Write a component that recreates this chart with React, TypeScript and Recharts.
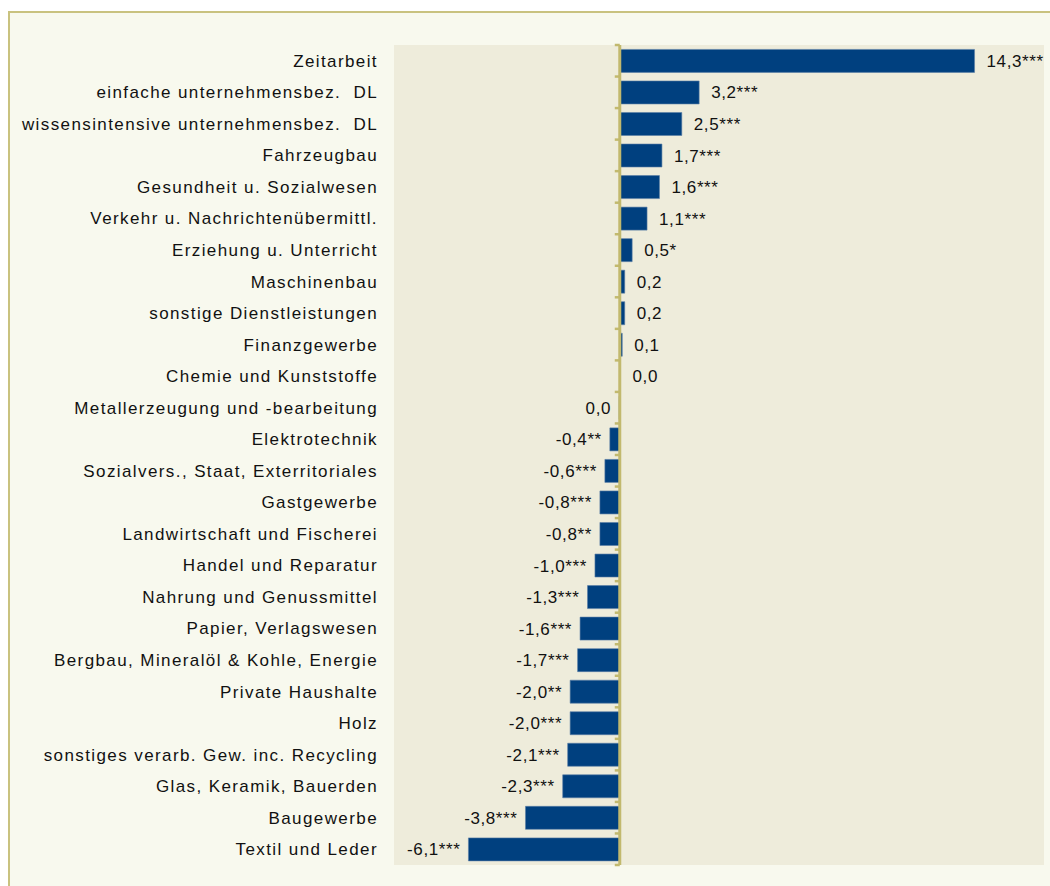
import { BarChart, Bar, XAxis, YAxis, CartesianGrid, ReferenceLine, LabelList } from "recharts";

/* Branchen, Effekte (Prozentpunkte) und Signifikanz */
const branchen = [
  "Zeitarbeit",
  "einfache unternehmensbez.  DL",
  "wissensintensive unternehmensbez.  DL",
  "Fahrzeugbau",
  "Gesundheit u. Sozialwesen",
  "Verkehr u. Nachrichtenübermittl.",
  "Erziehung u. Unterricht",
  "Maschinenbau",
  "sonstige Dienstleistungen",
  "Finanzgewerbe",
  "Chemie und Kunststoffe",
  "Metallerzeugung und -bearbeitung",
  "Elektrotechnik",
  "Sozialvers., Staat, Exterritoriales",
  "Gastgewerbe",
  "Landwirtschaft und Fischerei",
  "Handel und Reparatur",
  "Nahrung und Genussmittel",
  "Papier, Verlagswesen",
  "Bergbau, Mineralöl & Kohle, Energie",
  "Private Haushalte",
  "Holz",
  "sonstiges verarb. Gew. inc. Recycling",
  "Glas, Keramik, Bauerden",
  "Baugewerbe",
  "Textil und Leder",
];

const effekte = [
  14.3, 3.2, 2.5, 1.7, 1.6, 1.1, 0.5, 0.2, 0.2, 0.1, 0.03, -0.03, -0.4, -0.6,
  -0.8, -0.8, -1.0, -1.3, -1.6, -1.7, -2.0, -2.0, -2.1, -2.3, -3.8, -6.1,
];

const sterne = [
  "***", "***", "***", "***", "***", "***", "*", "", "", "", "", "", "**", "***",
  "***", "**", "***", "***", "***", "***", "**", "***", "***", "***", "***", "***",
];

const data = branchen.map((name, i) => ({ name, value: effekte[i], stars: sterne[i] }));

const AXIS_COLOR = "#c2b96e";
const BAR_COLOR = "#00407f";
const FONT = "'Liberation Sans', Arial, sans-serif";

const fmt = (v: number) => (Math.abs(v) < 0.05 ? "0,0" : v.toFixed(1).replace(".", ","));

/* Nulllinie mit Teilstrichen an den Kategoriegrenzen */
const ZeroAxis = (props: any) => {
  const { x1, y1, y2 } = props;
  const top = Math.min(y1, y2);
  const bottom = Math.max(y1, y2);
  const step = (bottom - top) / branchen.length;
  const ticks = [];
  for (let i = 0; i <= branchen.length; i++) {
    const y = top + i * step;
    ticks.push(<line key={i} x1={x1 - 5} x2={x1} y1={y} y2={y} stroke={AXIS_COLOR} strokeWidth={2.5} />);
  }
  return (
    <g>
      <line x1={x1} x2={x1} y1={top} y2={bottom} stroke={AXIS_COLOR} strokeWidth={3} />
      {ticks}
    </g>
  );
};

const CatTick = (props: any) => {
  const { x, y, payload } = props;
  return (
    <text
      x={x}
      y={y}
      dy={6}
      textAnchor="end"
      fontFamily={FONT}
      fontSize={17}
      letterSpacing={1.4}
      fill="#111"
      style={{ whiteSpace: "pre" }}
    >
      {payload.value}
    </text>
  );
};

const ValueLabel = (props: any) => {
  const { x, y, width, height, index } = props;
  const d = data[index];
  if (!d) return null;
  const left = Math.min(x, x + width);
  const right = Math.max(x, x + width);
  const neg = d.value < 0;
  const tx = neg ? left - 8 : right + 12;
  const cy = y + height / 2;
  return (
    <text
      x={tx}
      y={cy}
      dy={6}
      textAnchor={neg ? "end" : "start"}
      fontFamily={FONT}
      fontSize={17}
      letterSpacing={0.6}
      fill="#111"
    >
      {fmt(d.value) + d.stars}
    </text>
  );
};

export default function App() {
  return (
    <div
      style={{
        position: "fixed",
        left: 8,
        top: 11,
        width: 1080,
        height: 900,
        borderTop: "2px solid #c9c27f",
        borderLeft: "2px solid #c9c27f",
        background: "#f8f9ee",
        boxSizing: "border-box",
      }}
    >
      <BarChart
        width={1060}
        height={873}
        data={data}
        layout="vertical"
        margin={{ top: 32, right: 26, bottom: 21, left: 0 }}
        barCategoryGap="14%"
      >
        <CartesianGrid horizontal={false} vertical={false} fill="#eeecdb" stroke="none" />
        <XAxis type="number" domain={[-9.1, 17.1]} hide />
        <YAxis
          type="category"
          dataKey="name"
          width={384}
          axisLine={false}
          tickLine={false}
          tickSize={0}
          tickMargin={16}
          interval={0}
          tick={CatTick}
        />
        <Bar dataKey="value" fill={BAR_COLOR} stroke="#5b7ea6" strokeWidth={0.6} isAnimationActive={false}>
          <LabelList dataKey="value" content={ValueLabel} />
        </Bar>
        <ReferenceLine x={0} shape={ZeroAxis} />
      </BarChart>
    </div>
  );
}
